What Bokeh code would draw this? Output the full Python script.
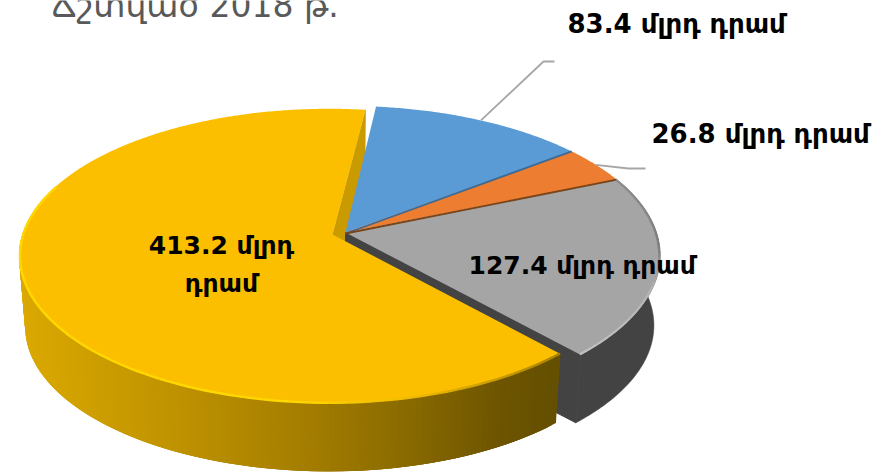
import numpy as np
from bokeh.plotting import figure
from bokeh.embed import file_html
from bokeh.resources import INLINE
from bokeh.core.properties import value

# ---- data
title_text = "Ճշտված 2018 թ."
slice_values = [83.4, 26.8, 127.4, 413.2]
slice_colors = ["#5B9BD5", "#ED7D31", "#A5A5A5", "#FCBF00"]
slice_edges = ["#3D6A94", "#7A4318", "#A5A5A5", "#FCBF00"]
label_lines = [["83.4 մլրդ դրամ"], ["26.8 մլրդ դրամ"], ["127.4 մլրդ դրամ"], ["413.2 մլրդ", "դրամ"]]

# ---- pie geometry (pixels of the page)
CX, CY, RX, RY, K = 345.0, 232.0, 311.0, 146.0, 0.153
START = 83.5          # first slice angle, degrees, clockwise from here
DEPTH, SCALE = 70.5, 0.98
APEX_OFF = (-13.0, 2.0)
RIM_OFF = (-16.5, 1.0)
RIM_SCALE = 0.985
GAP = 1.4
FONT = "DejaVu Sans"


def project(t, scale=1.0, dy=0.0, off=(0.0, 0.0)):
    t = np.radians(np.asarray(t, dtype=float))
    w = 1 + K * np.sin(t)
    return (CX + off[0] + scale * RX * np.cos(t) / w,
            CY + off[1] + dy - scale * RY * np.sin(t) / w)


def arc(a, b, step=0.5):
    n = max(2, int(abs(a - b) / step) + 1)
    return np.linspace(a, b, n)


def lerp_color(x, xs, cols):
    rgb = [np.interp(x, xs, [int(c[i:i + 2], 16) for c in cols]) for i in (1, 3, 5)]
    return "#%02x%02x%02x" % tuple(int(v) for v in rgb)


total = sum(slice_values)
edges = [START]
for v in slice_values:
    edges.append(edges[-1] - 360 * v / total)

p = figure(width=893, height=476, x_range=(0, 893), y_range=(476, 0),
           output_backend="svg", toolbar_location=None, min_border=0,
           outline_line_color=None)
p.axis.visible = False
p.grid.visible = False

a_blue, a_orange, a_grey, a_end = edges[1], edges[2], edges[3], edges[4] - GAP
ax, ay = CX + APEX_OFF[0], CY + APEX_OFF[1]

# yellow cut wall at the top
xr, yr = project([a_end], RIM_SCALE, 0, RIM_OFF)
xr2, yr2 = project([a_end], SCALE * RIM_SCALE, DEPTH, RIM_OFF)
p.patch([ax, xr[0], xr2[0], ax], [ay, yr[0], yr2[0], ay + DEPTH],
        fill_color="#C99B00", line_color="#C99B00", line_width=0.5)

# grey outer wall and cut wall
ts = arc(a_orange, a_grey)
x1, y1 = project(ts)
x2, y2 = project(ts[::-1], SCALE, DEPTH)
p.patch(list(x1) + list(x2), list(y1) + list(y2), fill_color="#434343", line_color="#434343", line_width=0.5)
xa, ya = project([a_grey])
xb, yb = project([a_grey], SCALE, DEPTH)
p.patch([CX, xa[0], xb[0], CX], [CY, ya[0], yb[0], CY + DEPTH], fill_color="#434343", line_color="#434343")

# top faces of blue, orange, grey
for i in range(3):
    xs, ys = project(arc(edges[i], edges[i + 1]))
    p.patch([CX] + list(xs), [CY] + list(ys), fill_color=slice_colors[i], line_color=None)
for i in range(2):
    xe, ye = project([edges[i + 1]])
    p.line([CX, xe[0]], [CY + 1, ye[0]], line_color=slice_edges[i], line_width=1.8)

# grey rim shading
ts = arc(a_orange, a_grey, 1.5)
xs, ys = project(ts, 0.997)
for j in range(len(ts) - 1):
    c = lerp_color(ts[j], [-50, -20, -5, 25], ["#C4C4C4", "#B4B4B4", "#7C7C7C", "#8E8E8E"])
    p.line(xs[j:j + 2], ys[j:j + 2], line_color=c, line_width=2.2)

# yellow outer wall, strips shaded by position (each overlaps the next)
stop_x = [20, 170, 300, 400, 500, 560]
stop_c = ["#DBA900", "#C09300", "#A67F00", "#8C6C00", "#6E5500", "#645000"]
ts = arc(a_grey, -200, 1.0)
xt, yt = project(ts, RIM_SCALE, 0, RIM_OFF)
xbm, ybm = project(ts, SCALE * RIM_SCALE, DEPTH + 1, RIM_OFF)
for j in range(len(ts) - 1):
    k = min(j + 3, len(ts) - 1)
    c = lerp_color((xt[j] + xt[j + 1]) / 2, stop_x, stop_c)
    p.patch([xt[j], xt[k], xbm[k], xbm[j]], [yt[j], yt[k], ybm[k], ybm[j]],
            fill_color=c, line_color=None)

# yellow top face
xs, ys = project(arc(a_grey, a_end), RIM_SCALE, 0, RIM_OFF)
p.patch([ax] + list(xs), [ay] + list(ys), fill_color=slice_colors[3], line_color=None)

# yellow rim highlight
ts = arc(a_grey, -200, 1.5)
xs, ys = project(ts, RIM_SCALE * 0.997, 0, RIM_OFF)
for j in range(len(ts) - 1):
    c = lerp_color(xs[j], [20, 300, 420, 500, 560], ["#FFD800", "#FFD800", "#F0BA00", "#C89B00", "#A88300"])
    p.line(xs[j:j + 2], ys[j:j + 2], line_color=c, line_width=2.4)

# leader lines
for i, elbow, tail in [(0, (543, 61), (554, 61)), (1, (628, 168), (645, 168))]:
    xm, ym = project([(edges[i] + edges[i + 1]) / 2])
    p.line([xm[0], elbow[0], tail[0]], [ym[0], elbow[1], tail[1]], line_color="#A6A6A6", line_width=1.8)

# labels
label_pos = [(567, 23), (651, 133), (468, 265), (221, 245)]
label_size = ["26px", "26px", "25px", "25px"]
for lines, (lx, ly), size in zip(label_lines, label_pos, label_size):
    align = "left" if len(lines) == 1 else "center"
    for n, s in enumerate(lines):
        p.text([lx], [ly + n * 38], text=[s], text_font=value(FONT), text_font_size=size,
               text_font_style="bold", text_color="#000000", text_align=align, text_baseline="alphabetic")

p.text([51], [5], text=[title_text], text_font=value(FONT), text_font_size="33px",
       text_color="#595959", text_align="left", text_baseline="alphabetic")

open("out.html", "w").write(file_html(p, INLINE))
